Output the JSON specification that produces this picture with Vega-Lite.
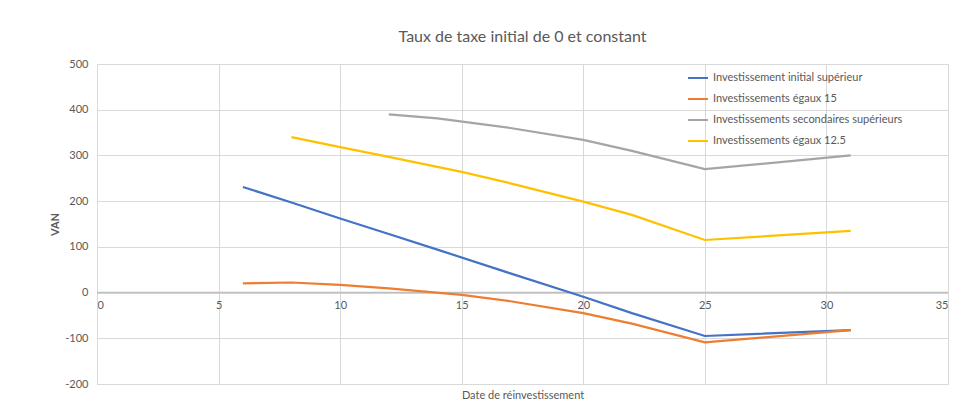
{
  "$schema": "https://vega.github.io/schema/vega-lite/v6.json",
  "width": 851,
  "height": 320,
  "autosize": {"type": "none"},
  "padding": {"left": 97, "top": 64, "right": 19, "bottom": 30},
  "background": "white",
  "title": {"text": "Taux de taxe initial de 0 et constant", "font": "Lato", "fontSize": 16, "fontWeight": "normal", "color": "#595959", "anchor": "middle", "offset": 13},
  "config": {
    "view": {"stroke": null},
    "font": "Lato",
    "axis": {"gridColor": "#D9D9D9", "gridWidth": 1, "labelColor": "#595959", "titleColor": "#595959", "labelFont": "Lato", "titleFont": "Lato", "labelFontSize": 11, "titleFontSize": 11, "titleFontWeight": "normal", "ticks": false}
  },
  "datasets": {
    "series": [
      {"serie": "Investissement initial supérieur", "date": 6, "van": 231},
      {"serie": "Investissement initial supérieur", "date": 8, "van": 197},
      {"serie": "Investissement initial supérieur", "date": 10, "van": 162},
      {"serie": "Investissement initial supérieur", "date": 12, "van": 128},
      {"serie": "Investissement initial supérieur", "date": 14, "van": 94},
      {"serie": "Investissement initial supérieur", "date": 17, "van": 42},
      {"serie": "Investissement initial supérieur", "date": 20, "van": -9},
      {"serie": "Investissement initial supérieur", "date": 22, "van": -45},
      {"serie": "Investissement initial supérieur", "date": 25, "van": -95},
      {"serie": "Investissement initial supérieur", "date": 31, "van": -82},
      {"serie": "Investissements égaux 15", "date": 6, "van": 20},
      {"serie": "Investissements égaux 15", "date": 8, "van": 22},
      {"serie": "Investissements égaux 15", "date": 10, "van": 17},
      {"serie": "Investissements égaux 15", "date": 12, "van": 9},
      {"serie": "Investissements égaux 15", "date": 15, "van": -5},
      {"serie": "Investissements égaux 15", "date": 17, "van": -19},
      {"serie": "Investissements égaux 15", "date": 20, "van": -45},
      {"serie": "Investissements égaux 15", "date": 22, "van": -68},
      {"serie": "Investissements égaux 15", "date": 25, "van": -109},
      {"serie": "Investissements égaux 15", "date": 31, "van": -82},
      {"serie": "Investissements secondaires supérieurs", "date": 12, "van": 390},
      {"serie": "Investissements secondaires supérieurs", "date": 14, "van": 381},
      {"serie": "Investissements secondaires supérieurs", "date": 17, "van": 360},
      {"serie": "Investissements secondaires supérieurs", "date": 20, "van": 334},
      {"serie": "Investissements secondaires supérieurs", "date": 22, "van": 310},
      {"serie": "Investissements secondaires supérieurs", "date": 25, "van": 270},
      {"serie": "Investissements secondaires supérieurs", "date": 31, "van": 300},
      {"serie": "Investissements égaux 12.5", "date": 8, "van": 340},
      {"serie": "Investissements égaux 12.5", "date": 10, "van": 318},
      {"serie": "Investissements égaux 12.5", "date": 12, "van": 297},
      {"serie": "Investissements égaux 12.5", "date": 15, "van": 264},
      {"serie": "Investissements égaux 12.5", "date": 17, "van": 239},
      {"serie": "Investissements égaux 12.5", "date": 20, "van": 199},
      {"serie": "Investissements égaux 12.5", "date": 22, "van": 170},
      {"serie": "Investissements égaux 12.5", "date": 25, "van": 115},
      {"serie": "Investissements égaux 12.5", "date": 31, "van": 135}
    ]
  },
  "layer": [
    {
      "data": {"values": [{"z": 0}]},
      "mark": {"type": "rule", "color": "#BFBFBF", "strokeWidth": 1.5},
      "encoding": {"y": {"field": "z", "type": "quantitative", "scale": {"domain": [-200, 500]}}}
    },
    {
      "data": {"name": "series"},
      "mark": {"type": "line", "strokeWidth": 2.2},
      "encoding": {
        "x": {"field": "date", "type": "quantitative", "scale": {"domain": [0, 35], "nice": false},
          "axis": {"title": "Date de réinvestissement", "values": [0, 5, 10, 15, 20, 25, 30, 35], "offset": -91, "domain": false, "labelPadding": 6, "titleY": 102, "titleBaseline": "middle", "gridColor": "#D9D9D9"}},
        "y": {"field": "van", "type": "quantitative", "scale": {"domain": [-200, 500], "nice": false},
          "axis": {"title": "VAN", "values": [-200, -100, 0, 100, 200, 300, 400, 500], "labelExpr": "'' + datum.value", "domainColor": "#D9D9D9", "labelPadding": 9, "titleX": -37, "titleFontWeight": "bold"}},
        "color": {"field": "serie", "type": "nominal",
          "scale": {"domain": ["Investissement initial supérieur", "Investissements égaux 15", "Investissements secondaires supérieurs", "Investissements égaux 12.5"], "range": ["#4472C4", "#ED7D31", "#A5A5A5", "#FFC000"]},
          "legend": {"title": null, "orient": "none", "legendX": 590, "legendY": 3, "symbolType": "stroke", "symbolSize": 400, "symbolStrokeWidth": 2, "labelFontSize": 11, "labelColor": "#595959", "labelFont": "Lato", "labelLimit": 300, "rowPadding": 5, "symbolOffset": 0, "labelOffset": 4}}
      }
    }
  ]
}
